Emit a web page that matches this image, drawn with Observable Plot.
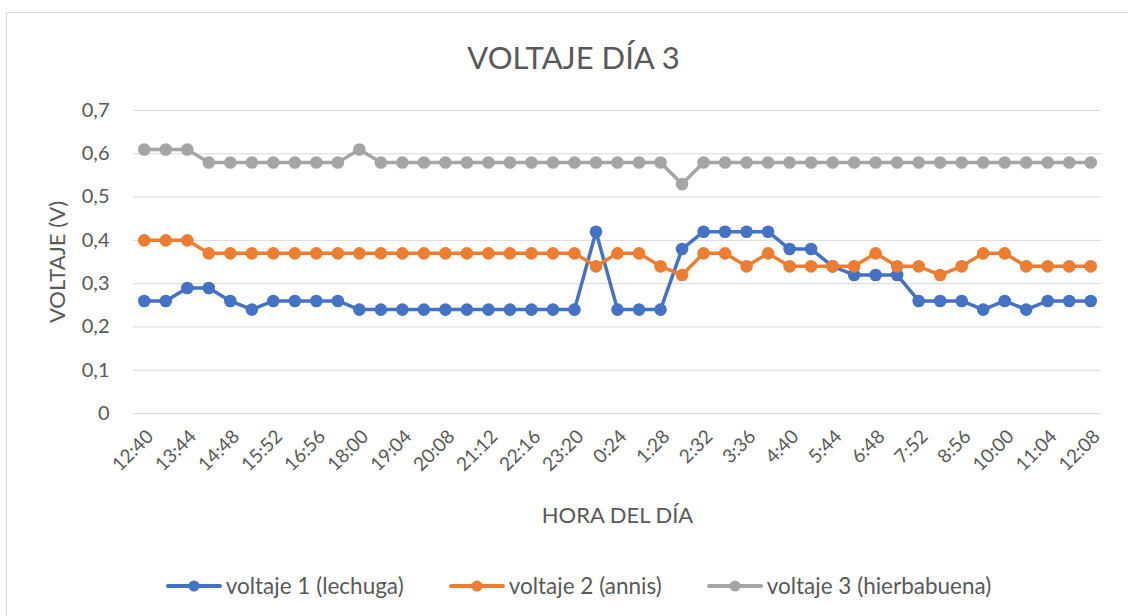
<!DOCTYPE html>
<html>
<head>
<meta charset="utf-8">
<script src="https://cdn.jsdelivr.net/npm/d3@7"></script>
<script src="https://cdn.jsdelivr.net/npm/@observablehq/plot@0.6"></script>
<style>
  html, body { margin: 0; padding: 0; background: #fff; overflow: hidden; }
  body { width: 1128px; height: 616px; position: relative; font-family: Lato, "Open Sans", sans-serif; color: #595959; }
  #frame { position: absolute; left: 6px; top: 12px; width: 1121px; height: 603px; border-left: 1px solid #d9d9d9; border-top: 1px solid #d9d9d9; }
  #title { height: 77px; position: relative; }
  #title div { position: absolute; left: 6px; width: 1121px; top: 26px; text-align: center; font-size: 31px; line-height: 37px; color: #595959; }
  #chart svg { display: block; }
  #legend { height: 61px; display: flex; justify-content: center; align-items: center; gap: 44px; padding-left: 21px; font-size: 22.5px; color: #595959; }
  .item { display: flex; align-items: center; }
  .item svg { display: block; margin-right: 3px; }
</style>
</head>
<body>
<div id="frame">
  <div id="title"><div>VOLTAJE DÍA 3</div></div>
  <div id="chart"></div>
  <div id="legend"></div>
</div>
<script>
const times = ["12:40","13:12","13:44","14:16","14:48","15:20","15:52","16:24","16:56","17:28",
  "18:00","18:32","19:04","19:36","20:08","20:40","21:12","21:44","22:16","22:48",
  "23:20","23:52","0:24","0:56","1:28","2:00","2:32","3:04","3:36","4:08",
  "4:40","5:12","5:44","6:16","6:48","7:20","7:52","8:24","8:56","9:28",
  "10:00","10:32","11:04","11:36","12:08"];
const tickLabels = ["12:40","13:44","14:48","15:52","16:56","18:00","19:04","20:08","21:12","22:16","23:20",
  "0:24","1:28","2:32","3:36","4:40","5:44","6:48","7:52","8:56","10:00","11:04","12:08"];
const lechuga = [0.26,0.26,0.29,0.29,0.26,0.24,0.26,0.26,0.26,0.26,
  0.24,0.24,0.24,0.24,0.24,0.24,0.24,0.24,0.24,0.24,
  0.24,0.42,0.24,0.24,0.24,0.38,0.42,0.42,0.42,0.42,
  0.38,0.38,0.34,0.32,0.32,0.32,0.26,0.26,0.26,0.24,
  0.26,0.24,0.26,0.26,0.26];
const annis = [0.40,0.40,0.40,0.37,0.37,0.37,0.37,0.37,0.37,0.37,
  0.37,0.37,0.37,0.37,0.37,0.37,0.37,0.37,0.37,0.37,
  0.37,0.34,0.37,0.37,0.34,0.32,0.37,0.37,0.34,0.37,
  0.34,0.34,0.34,0.34,0.37,0.34,0.34,0.32,0.34,0.37,
  0.37,0.34,0.34,0.34,0.34];
const hierbabuena = [0.61,0.61,0.61,0.58,0.58,0.58,0.58,0.58,0.58,0.58,
  0.61,0.58,0.58,0.58,0.58,0.58,0.58,0.58,0.58,0.58,
  0.58,0.58,0.58,0.58,0.58,0.53,0.58,0.58,0.58,0.58,
  0.58,0.58,0.58,0.58,0.58,0.58,0.58,0.58,0.58,0.58,
  0.58,0.58,0.58,0.58,0.58];
const seriesNames = ["voltaje 1 (lechuga)", "voltaje 2 (annis)", "voltaje 3 (hierbabuena)"];
const seriesValues = [lechuga, annis, hierbabuena];
const seriesColors = ["#4472C4", "#ED7D31", "#A5A5A5"];
const yTicks = [0, 0.1, 0.2, 0.3, 0.4, 0.5, 0.6, 0.7];

const fmt = d => String(+d.toFixed(1)).replace(".", ",");

const seriesMarks = [];
seriesNames.forEach((name, i) => {
  const rows = times.map((t, j) => ({time: t, v: seriesValues[i][j], series: name}));
  seriesMarks.push(Plot.line(rows, {x: "time", y: "v", stroke: "series", strokeWidth: 3.5}));
  seriesMarks.push(Plot.dot(rows, {x: "time", y: "v", fill: "series", r: 6.3, stroke: "none"}));
});

const plot = Plot.plot({
  width: 1121,
  height: 465,
  marginTop: 20,
  marginBottom: 142,
  marginLeft: 126,
  marginRight: 27,
  style: {fontFamily: "Lato, 'Open Sans', sans-serif", color: "#595959", background: "#fff"},
  x: {type: "point", domain: times, padding: 0.5, round: false},
  y: {domain: [0, 0.7]},
  color: {domain: seriesNames, range: seriesColors},
  marks: [
    Plot.gridY(yTicks, {stroke: "#d9d9d9", strokeOpacity: 1, strokeWidth: 1}),
    Plot.axisY(yTicks, {tickSize: 0, tickPadding: 24, tickFormat: fmt, fontSize: 20, label: null, fill: "#595959"}),
    Plot.axisX(tickLabels, {tickSize: 0, tickRotate: -45, tickPadding: 20, dx: 6, fontSize: 19, label: null, fill: "#595959"}),
    ...seriesMarks,
    Plot.text(["VOLTAJE (V)"], {frameAnchor: "left", rotate: -90, dx: -76, text: d => d, fontSize: 22, fill: "#595959", textAnchor: "middle", lineAnchor: "middle"}),
    Plot.text(["HORA DEL DÍA"], {frameAnchor: "bottom", dy: 102, text: d => d, fontSize: 22, fill: "#595959", textAnchor: "middle", lineAnchor: "middle"})
  ]
});
document.getElementById("chart").appendChild(plot);

const legend = document.getElementById("legend");
seriesNames.forEach((name, i) => {
  const item = document.createElement("div");
  item.className = "item";
  item.innerHTML = `<svg width="58" height="16"><line x1="3" y1="8" x2="55" y2="8" stroke="${seriesColors[i]}" stroke-width="4" stroke-linecap="round"/><circle cx="29" cy="8" r="5.5" fill="${seriesColors[i]}"/></svg><span>${name}</span>`;
  legend.appendChild(item);
});
</script>
</body>
</html>
